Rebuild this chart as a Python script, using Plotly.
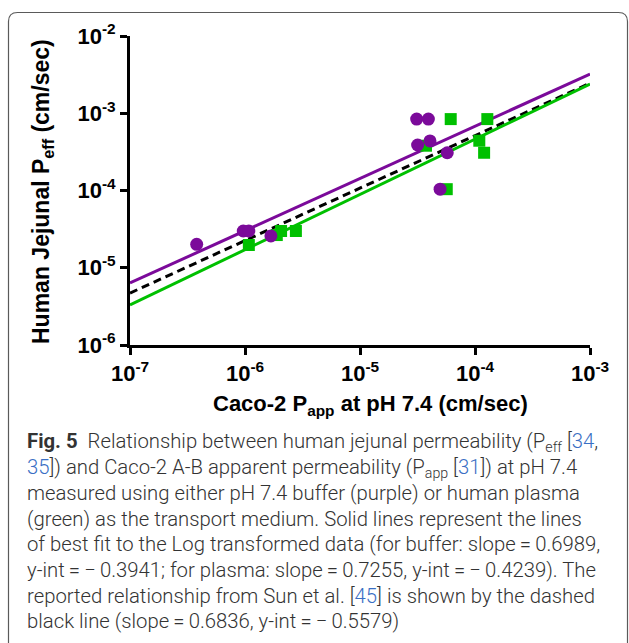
import plotly.graph_objects as go

# ---------------- data ----------------
buffer_papp = [3.11e-5, 3.93e-5, 3.17e-5, 4.06e-5, 5.74e-5, 4.97e-5, 3.80e-7, 9.66e-7, 1.08e-6, 1.68e-6]
buffer_peff = [8.4e-4, 8.4e-4, 3.88e-4, 4.38e-4, 3.08e-4, 1.04e-4, 2.01e-5, 2.99e-5, 2.99e-5, 2.58e-5]

plasma_papp = [6.15e-5, 1.28e-4, 3.75e-5, 1.09e-4, 1.20e-4, 5.68e-5, 1.08e-6, 1.89e-6, 2.06e-6, 2.77e-6]
plasma_peff = [8.4e-4, 8.4e-4, 3.80e-4, 4.41e-4, 3.08e-4, 1.04e-4, 1.97e-5, 2.65e-5, 2.99e-5, 2.99e-5]

fit_x = [1e-7, 1e-3]
buffer_fit_y = [6.35e-6, 3.22e-3]
plasma_fit_y = [3.30e-6, 2.39e-3]
sun_fit_y = [4.70e-6, 2.45e-3]

tick_vals = [1e-7, 1e-6, 1e-5, 1e-4, 1e-3]
tick_text = ["10<sup>-7</sup>", "10<sup>-6</sup>", "10<sup>-5</sup>", "10<sup>-4</sup>", "10<sup>-3</sup>"]
ytick_vals = [1e-6, 1e-5, 1e-4, 1e-3, 1e-2]
ytick_text = ["10<sup>-6</sup>", "10<sup>-5</sup>", "10<sup>-4</sup>", "10<sup>-3</sup>", "10<sup>-2</sup>"]

x_title = "Caco-2 P<sub>app</sub> at pH 7.4 (cm/sec)"
y_title = "Human Jejunal P<sub>eff</sub> (cm/sec)"

LINK = "#3a6fc4"
def link(s):
    return f"<span style='color:{LINK}'>{s}</span>"

caption_lines = [
    "<b>Fig. 5</b>  Relationship between human jejunal permeability (P<sub>eff</sub> [" + link("34") + ",",
    link("35") + "]) and Caco-2 A-B apparent permeability (P<sub>app</sub> [" + link("31") + "]) at pH 7.4",
    "measured using either pH 7.4 buffer (purple) or human plasma",
    "(green) as the transport medium. Solid lines represent the lines",
    "of best fit to the Log transformed data (for buffer: slope\u2009=\u20090.6989,",
    "y-int\u2009=\u2009\u2212\u20090.3941; for plasma: slope\u2009=\u20090.7255, y-int\u2009=\u2009\u2212\u20090.4239). The",
    "reported relationship from Sun et al. [" + link("45") + "] is shown by the dashed",
    "black line (slope\u2009=\u20090.6836, y-int\u2009=\u2009\u2212\u20090.5579)",
]

# ---------------- layout geometry ----------------
W, H = 629, 643
L, R, T, B = 130, 590, 36, 345
PURPLE = "#7b0a9a"
GREEN = "#00c000"
AXFONT = "Liberation Sans Narrow, Arial Narrow, Arial, sans-serif"


def px(x):
    return (x - L) / (R - L)


def py(y):
    return (B - y) / (B - T)


fig = go.Figure()

fig.add_trace(go.Scatter(x=fit_x, y=sun_fit_y, mode="lines",
                         line=dict(color="black", width=3, dash="8px,5px"), hoverinfo="skip"))
fig.add_trace(go.Scatter(x=fit_x, y=plasma_fit_y, mode="lines",
                         line=dict(color=GREEN, width=3), hoverinfo="skip"))
fig.add_trace(go.Scatter(x=fit_x, y=buffer_fit_y, mode="lines",
                         line=dict(color=PURPLE, width=3), hoverinfo="skip"))
fig.add_trace(go.Scatter(x=plasma_papp, y=plasma_peff, mode="markers",
                         marker=dict(symbol="square", size=12, color=GREEN, line=dict(width=0))))
fig.add_trace(go.Scatter(x=buffer_papp, y=buffer_peff, mode="markers",
                         marker=dict(symbol="circle", size=13, color=PURPLE, line=dict(width=0))))

axis_common = dict(
    type="log", showgrid=False, zeroline=False, showline=True, linecolor="black", linewidth=3,
    ticks="outside", ticklen=7, tickwidth=3, tickcolor="black",
    tickfont=dict(family=AXFONT, size=22, color="black", weight="bold"),
)

fig.update_xaxes(range=[-7, -3], tickvals=tick_vals, ticktext=tick_text, **axis_common)
fig.update_yaxes(range=[-6, -2], tickvals=ytick_vals, ticktext=ytick_text, ticklabelstandoff=0,
                 **axis_common)

annotations = [
    dict(text="<b>" + x_title + "</b>", x=px(370), y=py(405), xref="paper", yref="paper",
         showarrow=False, xanchor="center", yanchor="middle",
         font=dict(family=AXFONT, size=22, color="black")),
    dict(text="<b>" + y_title + "</b>", x=px(42), y=py(192), xref="paper", yref="paper",
         showarrow=False, xanchor="center", yanchor="middle", textangle=-90,
         font=dict(family=AXFONT, size=23, color="black")),
]

y0, dy = 442, 25.6
for i, line in enumerate(caption_lines):
    annotations.append(dict(
        text=line, x=px(25), y=py(y0 + i * dy), xref="paper", yref="paper",
        showarrow=False, xanchor="left", yanchor="middle", align="left",
        font=dict(family="Roboto, Lato, sans-serif", size=20.3, color="#333333", weight=300),
    ))

# rounded-corner frame around the figure
r = 9
fx0, fy0, fx1, fy1 = 8.5, 12.5, 627.5, 660
path = (f"M {px(fx0)},{py(fy1)} L {px(fx0)},{py(fy0 + r)} "
        f"Q {px(fx0)},{py(fy0)} {px(fx0 + r)},{py(fy0)} "
        f"L {px(fx1 - r)},{py(fy0)} Q {px(fx1)},{py(fy0)} {px(fx1)},{py(fy0 + r)} "
        f"L {px(fx1)},{py(fy1)}")

fig.update_layout(
    width=W, height=H, showlegend=False,
    margin=dict(l=L, r=W - R, t=T, b=H - B, pad=0),
    paper_bgcolor="white", plot_bgcolor="white",
    annotations=annotations,
    shapes=[dict(type="path", path=path, xref="paper", yref="paper",
                 line=dict(color="#5a5a5a", width=1.2), layer="below")],
)

fig.write_html("out.html", config={"displayModeBar": False},
               post_script="document.body.style.margin='0';document.body.style.overflow='hidden';")
